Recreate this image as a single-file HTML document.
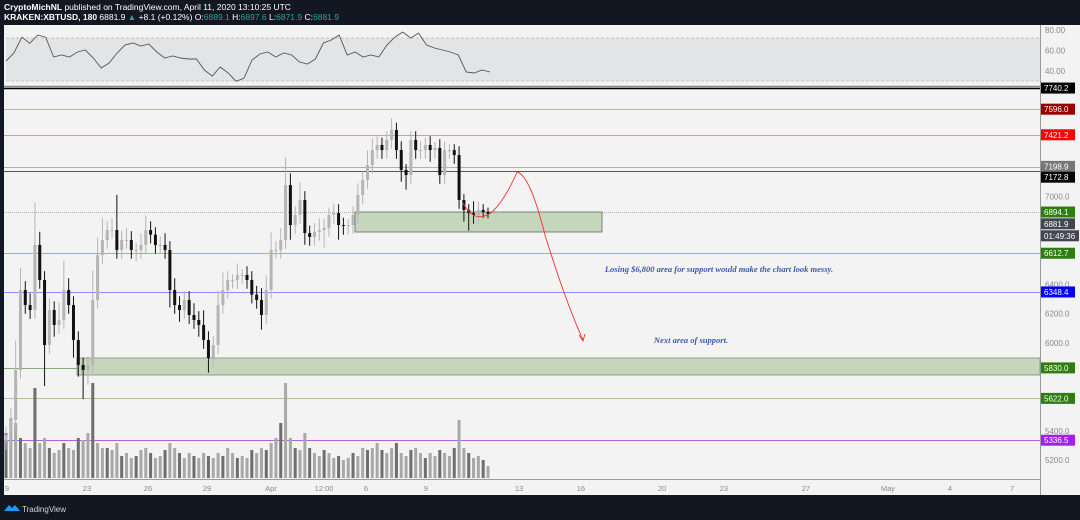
<!DOCTYPE html>
<html><head><meta charset="utf-8"><style>
html,body{margin:0;padding:0;background:#131722;width:1080px;height:520px;overflow:hidden;font-family:"Liberation Sans",sans-serif}
svg{display:block}
</style></head><body>
<svg id="c" width="1080" height="520" xmlns="http://www.w3.org/2000/svg">
<rect x="0" y="0" width="1080" height="520" fill="#131722"/>
<text x="4" y="10" font-size="8.5" fill="#fff"><tspan font-weight="bold">CryptoMichNL</tspan> published on TradingView.com, April 11, 2020 13:10:25 UTC</text>
<text x="4" y="20" font-size="8.5" fill="#fff"><tspan font-weight="bold">KRAKEN:XBTUSD, 180</tspan> 6881.9 <tspan fill="#26a69a">▲</tspan> +8.1 (+0.12%) O:<tspan fill="#26a69a">6889.1</tspan> H:<tspan fill="#26a69a">6897.6</tspan> L:<tspan fill="#26a69a">6871.9</tspan> C:<tspan fill="#26a69a">6881.9</tspan></text>
<rect x="4" y="25" width="1076" height="470" fill="#f3f3f3"/>
<rect x="6" y="38" width="1034" height="43" fill="#e3e4e6"/>
<line x1="6" y1="38" x2="1040" y2="38" stroke="#b8b8b8" stroke-dasharray="3,2" stroke-width="0.8"/>
<line x1="6" y1="81" x2="1040" y2="81" stroke="#b8b8b8" stroke-dasharray="3,2" stroke-width="0.8"/>
<line x1="4" y1="86.5" x2="1040" y2="86.5" stroke="#8a8a8a" stroke-width="1.5"/>
<line x1="1040.5" y1="25" x2="1040.5" y2="495" stroke="#9a9a9a" stroke-width="1"/>
<line x1="4" y1="479.5" x2="1040" y2="479.5" stroke="#9a9a9a" stroke-width="1"/>
<g id="levels"></g>
<rect x="77" y="358" width="963" height="17" fill="#c6d6bd" stroke="#7f8c7a" stroke-width="0.8"/>
<rect x="355" y="212" width="247" height="20" fill="#c6d6bd" stroke="#5f6b5a" stroke-width="0.8"/>
<g id="vol"></g>
<g id="candles"></g>
<polyline id="rsi" fill="none" stroke="#555" stroke-width="0.9"/>
<path d="M463,203 Q475,225 492,212 Q505,200 517,172 Q530,175 545,235 Q565,300 583,340" fill="none" stroke="#f23030" stroke-width="0.9"/>
<path d="M579,335 L583,341 L585,334" fill="none" stroke="#f23030" stroke-width="0.9"/>
<text x="719" y="272" font-size="8.5" font-family="Liberation Serif,serif" font-style="italic" font-weight="bold" fill="#3c5aa6" text-anchor="middle">Losing $6,800 area for support would make the chart look messy.</text>
<text x="691" y="343" font-size="8.5" font-family="Liberation Serif,serif" font-style="italic" font-weight="bold" fill="#3c5aa6" text-anchor="middle">Next area of support.</text>
<g id="axis"></g>
<g id="labels"></g>
<g id="xaxis"></g>
<g>
<path d="M4,511 L9,505 L12,508 L15,505 L20,511 Z" fill="#2196f3"/>
<text x="22" y="512" font-size="8" fill="#d1d4dc">TradingView</text>
</g>
</svg>
<script>
const NS='http://www.w3.org/2000/svg';
const closes=[5370,5475,5816,6362,6259,6225,6669,6430,5986,6225,6123,6157,6362,6259,6020,5850,5816,5850,6294,6600,6703,
6771,6771,6635,6703,6703,6635,6635,6669,6771,6740,6669,6669,6635,6362,6259,6225,6294,6191,6157,6123,6020,5898,5986,6259,6362,6430,6430,6464,6464,6430,6330,6294,6191,6362,6635,6635,6703,7078,6805,6874,6976,6751,6724,6758,6771,6785,6874,6887,6805,6799,6805,6874,7010,7113,7215,7317,7352,7317,7386,7454,7317,7181,7147,7386,7317,7317,7352,7317,7331,7147,7317,7317,7283,6976,6908,6887,6874,6908,6894,6881.9];
const wickUp=[60,80,200,150,60,80,290,90,60,80,60,120,200,80,60,60,50,60,200,120,150,
60,80,240,60,80,60,50,80,100,60,50,60,80,60,80,60,60,60,80,60,100,60,60,100,120,60,40,80,40,60,60,60,80,100,120,60,80,190,80,60,120,60,50,60,80,60,50,60,60,50,40,60,80,60,100,80,60,50,60,80,50,60,40,60,60,60,50,60,40,60,60,40,40,60,40,40,80,60,40,30];
const wickDn=[60,80,60,60,60,60,60,60,280,60,80,60,60,60,120,80,200,100,60,60,60,
60,60,60,60,60,60,80,60,60,60,60,60,60,120,60,80,60,60,60,80,60,100,60,60,60,60,60,60,60,60,60,60,100,60,60,60,60,60,100,60,60,80,60,60,60,120,60,60,100,60,60,60,60,60,60,60,60,60,60,60,60,80,100,60,60,60,60,80,60,60,60,60,60,60,80,120,60,60,40,30];
const volumes=[45,60,55,40,35,30,90,35,40,30,25,28,35,30,28,40,38,45,95,35,30,
30,28,35,22,25,20,22,28,30,25,20,22,28,35,30,25,20,25,22,20,25,22,20,25,22,30,25,20,22,20,28,25,30,28,35,40,55,95,40,30,28,45,30,25,22,28,25,20,22,18,20,25,22,30,28,30,35,28,25,30,35,25,22,28,30,25,20,25,22,28,25,22,30,58,30,25,20,22,18,12];
const rsiVals=[49.8,57.6,73,67,75,73,53.7,55.6,53.7,58.5,60.5,52.7,42.9,47.8,57.6,65.4,67.3,64.4,66.3,58.5,52.7,54.6,52.7,51.7,51.7,41,35,43.9,38,30,33,50.7,56.6,58.5,53.7,57.6,55.6,48.8,46.8,51.7,67.3,70.2,75,55.6,58.5,53.7,55.6,53.7,65.4,73,78,72.2,77,65.4,62.4,60.5,58.5,55.6,39,38,41,39];
const levelVals=[7740.2,7596.0,7421.2,7198.9,7172.8,6894.1,6612.7,6348.4,5830.0,5622.0,5336.5];
const levelColors=['#000','#e8a0a0','#f09090','#b0b0b0','#555','#9cc08a','#9cb88e','#8c8cff','#8aa87a','#a8c49a','#b060e0'];
const labelBg=['#000','#990000','#ff0000','#777','#000','#2e7d10','#2e7d10','#0000ff','#2e7d10','#2e7d10','#a020f0'];
const priceTicks=[7000,6400,6200,6000,5400,5200];
const rsiTicks=[80,60,40];
const dateLabels=['9','23','26','29','Apr','12:00','6','9','13','16','20','23','27','May','4','7'];
const dateDays=[0,3.93,6.93,9.83,12.97,15.58,17.64,20.59,25.16,28.2,32.19,35.23,39.26,43.29,46.34,49.39];

const py=p=>196.5+(7000-p)*0.1465;
const ry=v=>71-(v-40)*1.025;
const dx=d=>7+d*20.35;
const N=closes.length, x0=6, x1=488;
const cx=i=>x0+i*(x1-x0)/(N-1);
function mk(tag,attrs,parent){const e=document.createElementNS(NS,tag);for(const k in attrs)e.setAttribute(k,attrs[k]);parent.appendChild(e);return e;}

const lv=document.getElementById('levels');
levelVals.forEach((v,i)=>{
  const y=Math.round(py(v))+0.5;
  const l=mk('line',{x1:4,x2:1040,y1:y,y2:y,stroke:levelColors[i],'stroke-width':i==0?1.5:1},lv);
  if(i==5)l.setAttribute('stroke-dasharray','1,1');
  
  
});

const vg=document.getElementById('vol');
const vmax=Math.max(...volumes);
volumes.forEach((v,i)=>{
  const h=v/vmax*95;
  const r=mk('rect',{x:cx(i)-1.5,y:478-h,width:3,height:h,fill:(i%3==0)?'#6e6e6e':'#a8a8a8'},vg);
  
  
});

const cg=document.getElementById('candles');
closes.forEach((c,i)=>{
  const o=i==0?c-40:closes[i-1];
  const hi=Math.max(o,c)+wickUp[i], lo=Math.min(o,c)-wickDn[i];
  const up=c>=o, col=up?'#b5b5b5':'#111';
  const x=cx(i);
  const w=mk('line',{x1:x,x2:x,y1:py(hi),y2:py(lo),stroke:col,'stroke-width':1},cg);
  
  
  const top=py(Math.max(o,c)), bh=Math.max(1,py(Math.min(o,c))-top);
  const b=mk('rect',{x:x-1.5,y:top,width:3,height:bh,fill:col},cg);
  
  
});

const rx0=6, rx1=490;
document.getElementById('rsi').setAttribute('points',rsiVals.map((v,i)=>(rx0+i*(rx1-rx0)/(rsiVals.length-1)).toFixed(1)+','+ry(v).toFixed(1)).join(' '));

const ag=document.getElementById('axis');
priceTicks.forEach(p=>{
  const t=mk('text',{x:1045,y:py(p)+3,'font-size':8,fill:'#888'},ag);t.textContent=p.toFixed(1);
  
  
});
rsiTicks.forEach(v=>{
  const t=mk('text',{x:1045,y:ry(v)+3,'font-size':8,fill:'#888'},ag);t.textContent=v.toFixed(2);
  
  
});

const lg=document.getElementById('labels');
function tag(y,text,bg,name,w){
  const r=mk('rect',{x:1041,y:y-5.5,width:w||34,height:11,fill:bg},lg);
  
  
  const t=mk('text',{x:1044,y:y+3,'font-size':8,fill:'#fff'},lg);t.textContent=text;
  
  
}
levelVals.forEach((v,i)=>{
  let y=py(v);
  if(i==3)y-=1;
  if(i==4)y+=6;
  tag(y,v.toFixed(1),labelBg[i],'level-label');
});
tag(py(closes[N-1])+10,closes[N-1].toFixed(1),'#434651','current-price-label');
tag(py(closes[N-1])+22,'01:49:36','#434651','countdown-label',38);

const xg=document.getElementById('xaxis');
dateLabels.forEach((d,i)=>{
  const t=mk('text',{x:dx(dateDays[i]),y:491,'font-size':7.5,fill:'#888','text-anchor':'middle'},xg);t.textContent=d;
  
  
});
</script>
</body></html>
